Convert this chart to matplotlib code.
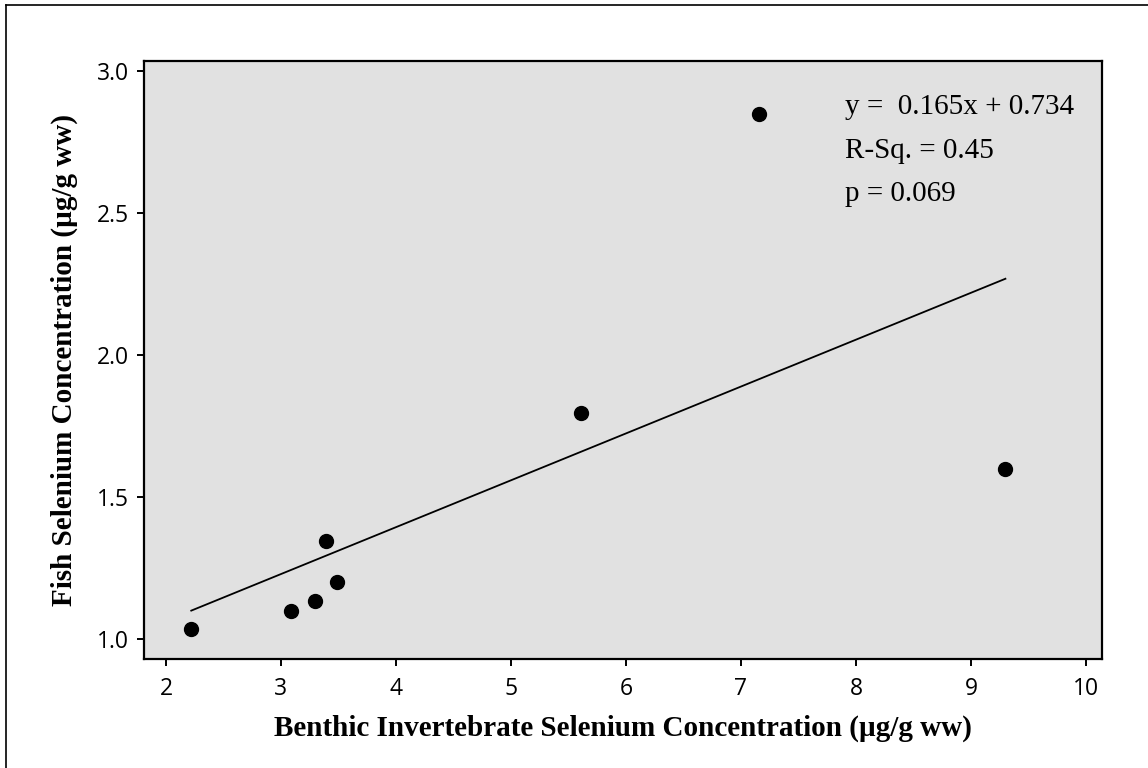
import matplotlib.pyplot as plt
from matplotlib.lines import Line2D

# invertebrate vs fish selenium (ug/g ww)
invert_se = [2.22, 3.09, 3.30, 3.49, 3.39, 5.61, 7.16, 9.30]
fish_se = [1.035, 1.10, 1.135, 1.20, 1.345, 1.795, 2.85, 1.60]

slope = 0.165
intercept = 0.734
stats_lines = ["y =  0.165x + 0.734", "R-Sq. = 0.45", "p = 0.069"]

x_ticks = [2, 3, 4, 5, 6, 7, 8, 9, 10]
y_ticks = [1.0, 1.5, 2.0, 2.5, 3.0]

W, H = 1148, 768
L, R, T, B = 144, 1102, 61, 659
fig = plt.figure(figsize=(W / 100, H / 100), dpi=100)
ax = fig.add_axes([L / W, 1 - B / H, (R - L) / W, (B - T) / H])
ax.set_facecolor("#e1e1e1")

ax.scatter(invert_se, fish_se, s=100, color="black", zorder=3)

x0, x1 = min(invert_se), max(invert_se)
ax.plot([x0, x1], [slope * x0 + intercept, slope * x1 + intercept],
        color="black", lw=1.3, zorder=2)

ax.set_xlim(1.809, 10.14)
ax.set_ylim(0.93, 3.035)
ax.set_xticks(x_ticks)
ax.set_yticks(y_ticks)
ax.set_xticklabels([str(t) for t in x_ticks])
ax.set_yticklabels(["%.1f" % t for t in y_ticks])

for sp in ax.spines.values():
    sp.set_linewidth(1.6)
ax.tick_params(direction="out", length=5, width=1.4, labelsize=16.5)
ax.tick_params(axis="x", pad=8)
ax.tick_params(axis="y", pad=6)
for lab in ax.get_xticklabels() + ax.get_yticklabels():
    lab.set_family("Open Sans")

ax.set_xlabel("Benthic Invertebrate Selenium Concentration (µg/g ww)",
              family="Liberation Serif", fontweight="bold", fontsize=21)
ax.set_ylabel("Fish Selenium Concentration (µg/g ww)",
              family="Liberation Serif", fontweight="bold", fontsize=21)
ax.xaxis.set_label_coords(0.5, (B - 715) / (B - T))
ax.yaxis.set_label_coords((78 - L) / (R - L), 0.5)

# regression stats in the top right
for i, txt in enumerate(stats_lines):
    fig.text(845 / W, 1 - (114 + 43.5 * i) / H, txt, family="Liberation Serif",
             fontsize=21, va="baseline", ha="left")

# frame lines along the top and left edges
fig.add_artist(Line2D([6 / W, 1], [1 - 5 / H, 1 - 5 / H], color="black", lw=1.2))
fig.add_artist(Line2D([6 / W, 6 / W], [0, 1 - 5 / H], color="black", lw=1.2))

fig.savefig("out.png", dpi=100, facecolor="white")
